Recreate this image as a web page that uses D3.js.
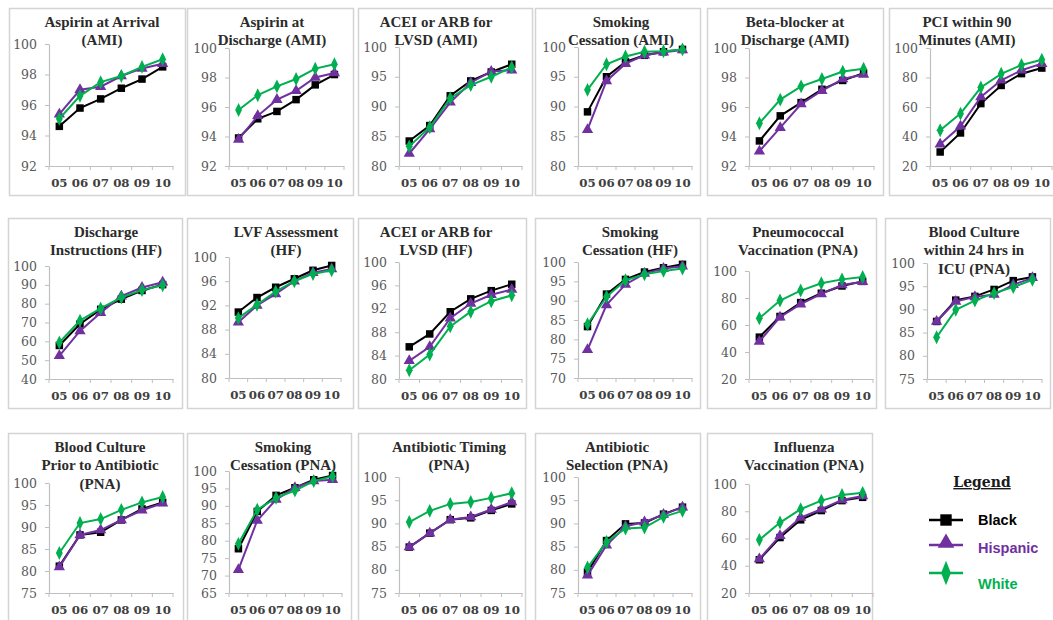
<!DOCTYPE html>
<html><head><meta charset="utf-8">
<script src="https://cdn.jsdelivr.net/npm/d3@7"></script>
<style>body{margin:0;background:#fff}svg{display:block}</style>
</head><body><svg id="c" width="1053" height="620"></svg>
<script>
// ---------- categories & series ----------
const years = ["05","06","07","08","09","10"];
const seriesNames = ["Black","Hispanic","White"];

// ---------- tick sets ----------
const ticks92to100 = [92,94,96,98,100];
const ticks80by5 = [80,85,90,95,100];
const ticks20by20 = [20,40,60,80,100];
const ticks40by10 = [40,50,60,70,80,90,100];
const ticks80by4 = [80,84,88,92,96,100];
const ticks70by5 = [70,75,80,85,90,95,100];
const ticks75by5 = [75,80,85,90,95,100];
const ticks65by5 = [65,70,75,80,85,90,95,100];

// ---------- data (percent) ----------
const aspArrBlack = [94.6,95.8,96.4,97.1,97.7,98.5];
const aspArrHisp  = [95.4,97.0,97.2,97.9,98.4,98.7];
const aspArrWhite = [95.1,96.6,97.5,97.9,98.5,99.0];

const aspDisBlack = [93.9,95.2,95.7,96.5,97.5,98.2];
const aspDisHisp  = [93.8,95.4,96.5,97.1,98.0,98.3];
const aspDisWhite = [95.8,96.8,97.4,97.9,98.6,98.9];

const aceiAmiBlack = [84.2,86.8,91.8,94.3,95.8,97.1];
const aceiAmiHisp  = [82.1,86.2,90.7,94.0,95.9,96.1];
const aceiAmiWhite = [83.3,86.5,91.4,93.6,95.0,96.6];

const smokAmiBlack = [89.1,95.0,97.5,98.6,99.2,99.6];
const smokAmiHisp  = [86.1,94.3,97.2,98.6,99.1,99.5];
const smokAmiWhite = [92.8,97.1,98.4,99.2,99.3,99.6];

const betaBlack = [93.7,95.4,96.3,97.2,97.8,98.3];
const betaHisp  = [93.0,94.6,96.2,97.1,97.9,98.2];
const betaWhite = [94.9,96.5,97.4,97.9,98.4,98.6];

const pciBlack = [29.5,42.4,62.3,74.6,82.6,86.4];
const pciHisp  = [34.7,46.9,66.8,78.1,84.9,89.4];
const pciWhite = [44.2,55.5,73.2,82.5,88.5,92.0];

const dischBlack = [57.8,69.2,77.0,82.4,87.0,90.1];
const dischHisp  = [52.3,65.5,75.2,84.0,88.6,91.4];
const dischWhite = [59.4,71.0,77.5,83.3,87.2,89.8];

const lvfBlack = [90.9,93.3,95.0,96.4,97.8,98.6];
const lvfHisp  = [89.2,92.0,93.9,96.0,97.4,98.0];
const lvfWhite = [89.9,92.1,94.3,96.0,97.2,97.8];

const aceiHfBlack = [85.5,87.7,91.5,93.7,95.1,96.2];
const aceiHfHisp  = [83.1,85.5,90.4,92.9,94.4,95.3];
const aceiHfWhite = [81.5,84.2,89.0,91.5,93.3,94.3];

const smokHfBlack = [83.3,91.7,95.5,97.4,98.5,99.4];
const smokHfHisp  = [77.3,88.9,94.2,97.0,98.3,98.9];
const smokHfWhite = [83.9,91.0,95.3,96.8,97.7,98.3];

const pneuBlack = [51.0,66.3,76.6,83.5,88.9,92.3];
const pneuHisp  = [47.8,65.8,75.4,83.0,89.7,92.1];
const pneuWhite = [65.0,78.1,85.5,90.9,93.8,95.5];

const bcIcuBlack = [87.4,92.0,92.8,94.3,96.2,97.0];
const bcIcuHisp  = [87.4,91.7,92.7,93.2,95.3,96.8];
const bcIcuWhite = [84.0,89.9,91.9,93.5,94.8,96.4];

const bcPriorBlack = [81.1,88.2,88.8,91.6,94.1,95.6];
const bcPriorHisp  = [80.9,88.2,89.3,91.6,93.8,95.4];
const bcPriorWhite = [84.1,90.9,91.8,93.9,95.6,96.8];

const smokPnaBlack = [77.7,88.4,93.0,95.2,97.5,98.7];
const smokPnaHisp  = [71.7,85.8,91.8,95.2,97.1,97.5];
const smokPnaWhite = [79.1,88.9,92.3,94.4,97.1,98.5];

const abxTimeBlack = [84.9,87.9,90.8,91.2,92.8,94.2];
const abxTimeHisp  = [84.9,87.9,90.8,91.4,93.0,94.6];
const abxTimeWhite = [90.3,92.7,94.2,94.6,95.5,96.5];

const abxSelBlack = [79.5,86.3,89.9,90.1,92.0,93.5];
const abxSelHisp  = [78.8,85.3,89.4,90.3,91.9,93.5];
const abxSelWhite = [80.5,86.0,88.9,89.1,91.4,92.7];

const fluBlack = [44.4,60.7,73.7,80.5,87.8,90.2];
const fluHisp  = [44.9,62.0,75.4,81.5,88.3,91.2];
const fluWhite = [59.0,71.7,81.5,87.8,92.0,93.5];

const panelTitles = [
  ["Aspirin at Arrival","(AMI)"],
  ["Aspirin at","Discharge (AMI)"],
  ["ACEI or ARB for","LVSD (AMI)"],
  ["Smoking","Cessation (AMI)"],
  ["Beta-blocker at","Discharge (AMI)"],
  ["PCI within 90","Minutes (AMI)"],
  ["Discharge","Instructions (HF)"],
  ["LVF Assessment","(HF)"],
  ["ACEI or ARB for","LVSD (HF)"],
  ["Smoking","Cessation (HF)"],
  ["Pneumococcal","Vaccination (PNA)"],
  ["Blood Culture","within 24 hrs in","ICU (PNA)"],
  ["Blood Culture","Prior to Antibiotic","(PNA)"],
  ["Smoking","Cessation (PNA)"],
  ["Antibiotic Timing","(PNA)"],
  ["Antibiotic","Selection (PNA)"],
  ["Influenza","Vaccination (PNA)"]
];
const panelTicks = [ticks92to100,ticks92to100,ticks80by5,ticks80by5,ticks92to100,ticks20by20,
  ticks40by10,ticks80by4,ticks80by4,ticks70by5,ticks20by20,ticks75by5,
  ticks75by5,ticks65by5,ticks75by5,ticks75by5,ticks20by20];
const panelSeries = [
  [aspArrBlack,aspArrHisp,aspArrWhite],
  [aspDisBlack,aspDisHisp,aspDisWhite],
  [aceiAmiBlack,aceiAmiHisp,aceiAmiWhite],
  [smokAmiBlack,smokAmiHisp,smokAmiWhite],
  [betaBlack,betaHisp,betaWhite],
  [pciBlack,pciHisp,pciWhite],
  [dischBlack,dischHisp,dischWhite],
  [lvfBlack,lvfHisp,lvfWhite],
  [aceiHfBlack,aceiHfHisp,aceiHfWhite],
  [smokHfBlack,smokHfHisp,smokHfWhite],
  [pneuBlack,pneuHisp,pneuWhite],
  [bcIcuBlack,bcIcuHisp,bcIcuWhite],
  [bcPriorBlack,bcPriorHisp,bcPriorWhite],
  [smokPnaBlack,smokPnaHisp,smokPnaWhite],
  [abxTimeBlack,abxTimeHisp,abxTimeWhite],
  [abxSelBlack,abxSelHisp,abxSelWhite],
  [fluBlack,fluHisp,fluWhite]
];

// ---------- layout (positions only) ----------
// [boxX, boxY, boxW, boxH, plotTopOffset, plotBottomOffset, axisLeftOffset, axisRightOffset, titleCenterX]
const layout = [
  [9,8,176,187,36,158,40,164,102],[187,8,166,187,40,158,42,157,272],[358,8,174,187,39,158,41,164,436],
  [535,8,165,187,39,158,43,157,621],[707,8,176,187,40,158,42,167,795],[889,8,176,187,40,158,41,163,967],
  [8,218,174,190,48,161,41,165,106],[187,218,166,190,39,160,42,154,286],[358,218,168,190,44,161,41,164,436],
  [535,218,165,190,44,160,43,157,630],[707,218,169,190,53,161,42,166,798],[885,218,165,190,45,161,42,157,974],
  [8,433,175,200,50,160,41,165,100],[187,433,164,200,38,160,42,155,283],[358,433,167,200,44,160,41,164,449],
  [535,433,165,200,44,160,43,157,617],[707,433,165,200,51,160,42,166,804]
];
const colors = ["#000000","#7030A0","#00B050"];
const symbols = [d3.symbolSquare, d3.symbolTriangle, d3.symbolDiamond];
const symSizes = [56, 55, 56];

const svg = d3.select("#c");

panelSeries.forEach((series, i) => {
  const [bx, by, bw, bh, pTop, pBot, aL, aR, tcx] = layout[i];
  const g = svg.append("g").attr("transform", `translate(${bx},${by})`);
  g.append("rect").attr("x",0.5).attr("y",0.5).attr("width",bw).attr("height",bh)
    .attr("fill","#fff").attr("stroke","#d4d4d4").attr("stroke-width",1.5);

  const ticks = panelTicks[i];
  const x = d3.scaleBand().domain(years).range([aL, aR]);
  const y = d3.scaleLinear().domain([d3.min(ticks), d3.max(ticks)]).range([pBot, pTop]);

  // y axis
  const ya = g.append("g").attr("transform",`translate(${aL},0)`)
    .call(d3.axisLeft(y).tickValues(ticks).tickSize(4).tickSizeOuter(0).tickPadding(8).tickFormat(d3.format("d")));
  ya.select(".domain").attr("stroke","#bfbfbf").attr("stroke-width",1.2);
  ya.selectAll(".tick line").attr("stroke","#bfbfbf");
  ya.selectAll(".tick text").attr("font-family","DejaVu Serif").attr("font-size",12.5)
    .attr("fill","#595959");

  // x axis
  const xa = g.append("g").attr("transform",`translate(0,${pBot})`)
    .call(d3.axisBottom(x).tickSize(0).tickSizeOuter(0).tickPadding(13));
  xa.select(".domain").attr("stroke","#bfbfbf").attr("stroke-width",1.2);
  xa.selectAll(".tick text").attr("font-family","DejaVu Serif").attr("font-weight","bold")
    .attr("font-size",11.8).attr("fill","#404040");
  const bounds = years.map(d => x(d)).concat([x.range()[1]]);
  xa.selectAll(".bt").data(bounds).join("line").attr("class","bt")
    .attr("x1",d=>d).attr("x2",d=>d).attr("y1",0).attr("y2",4).attr("stroke","#bfbfbf");

  // title
  const titleLines = panelTitles[i];
  g.append("text").attr("x", tcx - bx).attr("y", 18.5)
    .attr("text-anchor","middle").attr("font-family","Liberation Serif").attr("font-weight","bold")
    .attr("font-size",15).attr("fill","#2b2b2b")
    .selectAll("tspan").data(titleLines).join("tspan")
    .attr("x", tcx - bx).attr("dy",(d,k)=> k===0 ? 0 : 18.5).text(d=>d);

  // series
  const cx = (k) => x(years[k]) + x.bandwidth()/2;
  const line = d3.line().x((d,k)=>cx(k)).y(d=>y(d));
  series.forEach((vals, s) => {
    g.append("path").datum(vals).attr("d",line).attr("fill","none")
      .attr("stroke",colors[s]).attr("stroke-width",2);
    g.selectAll(".m"+s).data(vals).join("path").attr("class","m"+s)
      .attr("transform",(d,k)=>`translate(${cx(k)},${y(d)})${s===2?" scale(0.85,1)":""}`)
      .attr("d", d3.symbol().type(symbols[s]).size(symSizes[s])())
      .attr("fill",colors[s]);
  });
});

// ---------- legend ----------
const lg = svg.append("g");
lg.append("text").attr("x",982).attr("y",487).attr("text-anchor","middle")
  .attr("font-family","DejaVu Serif").attr("font-weight","bold").attr("font-size",14)
  .attr("fill","#1a1a1a").attr("text-decoration","underline").text("Legend");
const legY = [520, 545, 573];
const legTextY = [525, 553, 589];
seriesNames.forEach((name, s) => {
  lg.append("line").attr("x1",929).attr("x2",963).attr("y1",legY[s]).attr("y2",legY[s])
    .attr("stroke",colors[s]).attr("stroke-width",2.5);
  lg.append("path").attr("transform",`translate(946,${legY[s] - (s===1?2:0)})${s===2?" scale(0.8,1.15)":""}`)
    .attr("d", d3.symbol().type(symbols[s]).size(s===1?120:130)()).attr("fill",colors[s]);
  lg.append("text").attr("x",978).attr("y",legTextY[s]).attr("font-family","Liberation Sans")
    .attr("font-weight","bold").attr("font-size",14.5).attr("fill",colors[s]).text(name);
});
</script></body></html>
